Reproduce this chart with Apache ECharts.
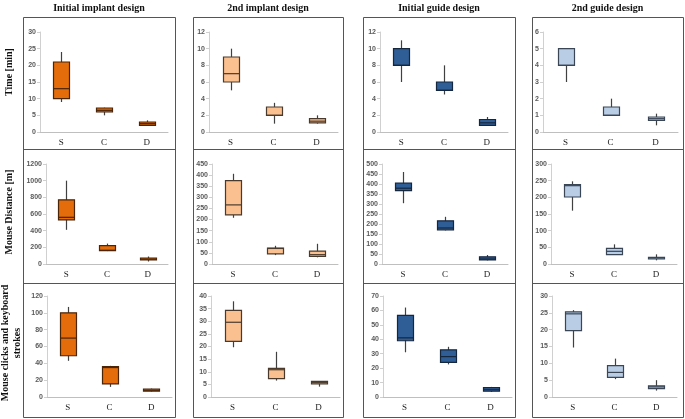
<!DOCTYPE html>
<html>
<head>
<meta charset="utf-8">
<script src="https://cdn.jsdelivr.net/npm/echarts@6/dist/echarts.min.js"></script>
<style>
html, body { margin: 0; padding: 0; background: #fff; }
#main { width: 685px; height: 419px; }
</style>
</head>
<body>
<div id="main"></div>
<script>
var categories = ['S', 'C', 'D'];
var designs = ['Initial implant design', '2nd implant design', 'Initial guide design', '2nd guide design'];
var measures = ['Time [min]', 'Mouse Distance [m]', 'Mouse clicks and keyboard\nstrokes'];

// box values: [min, Q1, median, Q3, max] for S, C, D
var timeImplant1 = [[9, 10, 13, 21, 24], [5, 6, 6.5, 7.2, 7.3], [2, 2, 2.5, 3, 3.5]];
var timeImplant2 = [[5, 6, 7, 9, 10], [1, 2, 2, 3, 3.5], [1, 1.1, 1.3, 1.6, 2]];
var timeGuide1 = [[6, 8, 8, 10, 11], [4.5, 5, 5, 6, 8], [0.8, 0.8, 1.1, 1.5, 1.8]];
var timeGuide2 = [[3, 4, 4, 5, 5], [1, 1, 1, 1.5, 2], [0.4, 0.7, 0.8, 0.9, 1.1]];

var distImplant1 = [[410, 530, 560, 770, 1000], [155, 160, 165, 220, 245], [30, 48, 58, 72, 90]];
var distImplant2 = [[208, 221, 266, 375, 406], [40, 46, 70, 72, 82], [30, 34, 42, 58, 91]];
var distGuide1 = [[304, 367, 379, 404, 460], [168, 170, 180, 216, 236], [18, 20, 25, 36, 45]];
var distGuide2 = [[160, 201, 235, 238, 248], [27, 28, 38, 47, 59], [11, 15, 18, 20, 29]];

var clickImplant1 = [[43, 49, 70, 100, 107], [12, 15.5, 35, 36, 37], [6.5, 7, 8, 9.5, 10]];
var clickImplant2 = [[19.7, 22, 29.6, 34.3, 37.9], [6.5, 7.3, 10.8, 11.3, 17.9], [4.1, 5.2, 5.8, 6.2, 6.3]];
var clickGuide1 = [[31, 39, 41, 56.6, 62], [22.6, 24, 28, 32.7, 34.8], [3.5, 4, 5, 6.5, 7]];
var clickGuide2 = [[14.7, 19.7, 24.7, 25.3, 25.8], [5.3, 5.8, 7.3, 9.3, 11.4], [1.9, 2.5, 3, 3.3, 5]];

// y axis ranges per row / column
var yMax = [[30, 12, 12, 6], [1200, 450, 500, 300], [120, 40, 70, 30]];
var yStep = [[5, 2, 2, 1], [200, 50, 50, 50], [20, 5, 10, 5]];

var cells = [
    [timeImplant1, timeImplant2, timeGuide1, timeGuide2],
    [distImplant1, distImplant2, distGuide1, distGuide2],
    [clickImplant1, clickImplant2, clickGuide1, clickGuide2]
];

var fills = ['#E46C0A', '#FAC090', '#2F5E96', '#B9CDE5'];
var strokes = ['#4a2508', '#4a3a2c', '#15263f', '#3a4656'];

// plot area edges (px)
var plotX = [
    [[40, 168], [209, 338], [380, 508], [543, 678]],
    [[46, 168], [212, 338], [382, 508], [551, 677]],
    [[47, 172], [211, 340], [383, 512], [552, 677]]
];
var plotY = [[32, 132], [164, 264], [296, 397]];
var panelX = [[23, 175], [193, 343], [363, 515], [532, 683]];

var myChart = echarts.init(document.getElementById('main'));

// excel style box: plain whisker, no caps
function makeRender(fill, stroke) {
    return function (params, api) {
        var x = api.value(0);
        var pMin = api.coord([x, api.value(1)]);
        var pQ1 = api.coord([x, api.value(2)]);
        var pMed = api.coord([x, api.value(3)]);
        var pQ3 = api.coord([x, api.value(4)]);
        var pMax = api.coord([x, api.value(5)]);
        var w = 16;
        var cx = Math.round(pMin[0]) + 0.5;
        return {
            type: 'group',
            children: [
                {
                    type: 'line',
                    shape: { x1: cx, y1: pMin[1], x2: cx, y2: pMax[1] },
                    style: { stroke: '#404040', lineWidth: 1.2 }
                },
                {
                    type: 'rect',
                    shape: { x: cx - w / 2, y: pQ3[1], width: w, height: pQ1[1] - pQ3[1] },
                    style: { fill: fill, stroke: stroke, lineWidth: 1.2 }
                },
                {
                    type: 'line',
                    shape: { x1: cx - w / 2, y1: pMed[1], x2: cx + w / 2, y2: pMed[1] },
                    style: { stroke: stroke, lineWidth: 1.2 }
                }
            ]
        };
    };
}

var grids = [], xAxes = [], yAxes = [], series = [], graphics = [];
var idx = 0;
for (var r = 0; r < 3; r++) {
    for (var c = 0; c < 4; c++) {
        grids.push({
            left: plotX[r][c][0],
            width: plotX[r][c][1] - plotX[r][c][0],
            top: plotY[r][0],
            height: plotY[r][1] - plotY[r][0]
        });
        xAxes.push({
            type: 'category',
            gridIndex: idx,
            data: categories,
            axisLine: { lineStyle: { color: '#bfbfbf' } },
            axisTick: { length: 3, lineStyle: { color: '#bfbfbf' } },
            axisLabel: { color: '#222', fontSize: 9, fontFamily: 'Liberation Serif', margin: 6 }
        });
        yAxes.push({
            type: 'value',
            gridIndex: idx,
            min: 0,
            max: yMax[r][c],
            interval: yStep[r][c],
            splitLine: { show: false },
            axisLine: { show: true, lineStyle: { color: '#d0d0d0' } },
            axisTick: { show: true, length: 3, lineStyle: { color: '#d0d0d0' } },
            axisLabel: {
                color: '#595959', fontSize: 7, fontWeight: 'bold', fontFamily: 'Liberation Sans', margin: 4,
                formatter: function (v) { return String(v); }
            }
        });
        series.push({
            type: 'custom',
            xAxisIndex: idx,
            yAxisIndex: idx,
            silent: true,
            renderItem: makeRender(fills[c], strokes[c]),
            encode: { x: 0, y: [1, 2, 3, 4, 5] },
            data: cells[r][c].map(function (b, i) { return [i].concat(b); })
        });
        idx++;
    }
}

for (var c = 0; c < 4; c++) {
    var px = panelX[c];
    graphics.push({
        type: 'rect',
        shape: { x: px[0] + 0.5, y: 17.5, width: px[1] - px[0], height: 400 },
        style: { fill: 'none', stroke: '#555', lineWidth: 1 }
    });
    [149.5, 283.5].forEach(function (yy) {
        graphics.push({
            type: 'line',
            shape: { x1: px[0], y1: yy, x2: px[1], y2: yy },
            style: { stroke: '#555', lineWidth: 1 }
        });
    });
    graphics.push({
        type: 'text',
        x: (px[0] + px[1]) / 2,
        y: 8,
        style: {
            text: designs[c],
            font: 'bold 10px "Liberation Serif"',
            fill: '#111',
            textAlign: 'center',
            textVerticalAlign: 'middle'
        }
    });
}

var labelPos = [[9, 72], [9, 212], [11, 343]];
for (var r = 0; r < 3; r++) {
    graphics.push({
        type: 'text',
        x: labelPos[r][0],
        y: labelPos[r][1],
        rotation: Math.PI / 2,
        style: {
            text: measures[r],
            font: 'bold 10px "Liberation Serif"',
            fill: '#111',
            lineHeight: 12,
            textAlign: 'center',
            textVerticalAlign: 'middle'
        }
    });
}

option = {
    animation: false,
    grid: grids,
    xAxis: xAxes,
    yAxis: yAxes,
    series: series,
    graphic: graphics
};
myChart.setOption(option);
</script>
</body>
</html>
